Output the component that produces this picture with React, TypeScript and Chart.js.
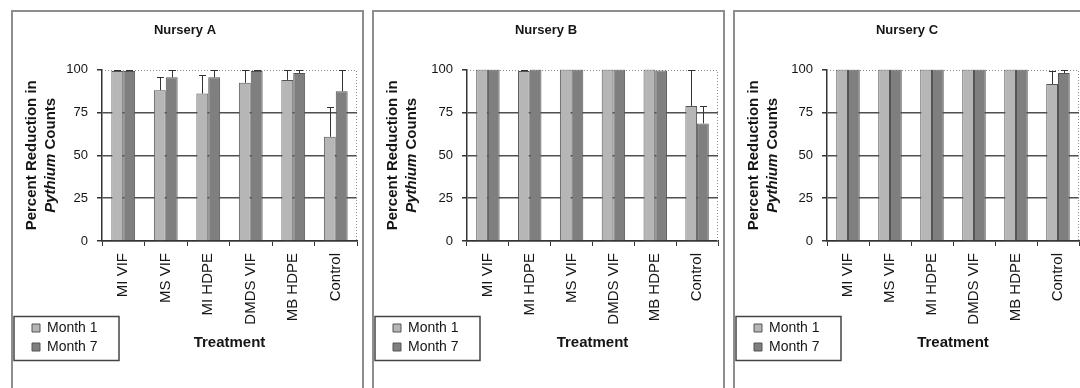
import React, { useEffect, useRef } from "react";
import { Chart, registerables } from "chart.js";

Chart.register(...registerables);

// ---------- data ----------
const seriesLabels = ["Month 1", "Month 7"];
const yTickValues = [0, 25, 50, 75, 100];

const nurseryATitle = "Nursery A";
const nurseryALabels = ["MI VIF", "MS VIF", "MI HDPE", "DMDS VIF", "MB HDPE", "Control"];
const nurseryAMonth1 = [99.2, 88, 86, 92.3, 94, 60.8];
const nurseryAMonth1Err = [0.6, 7.8, 11, 7.7, 6, 17.5];
const nurseryAMonth7 = [99.2, 95.5, 95.5, 99.2, 98, 87.4];
const nurseryAMonth7Err = [0.6, 4.5, 4.5, 0.8, 2, 12.6];

const nurseryBTitle = "Nursery B";
const nurseryBLabels = ["MI VIF", "MI HDPE", "MS VIF", "DMDS VIF", "MB HDPE", "Control"];
const nurseryBMonth1 = [100, 99.2, 100, 100, 100, 78.8];
const nurseryBMonth1Err = [0, 0.6, 0, 0, 0, 20.8];
const nurseryBMonth7 = [100, 100, 100, 100, 99.5, 68.6];
const nurseryBMonth7Err = [0, 0, 0, 0, 0, 10.2];

const nurseryCTitle = "Nursery C";
const nurseryCLabels = ["MI VIF", "MS VIF", "MI HDPE", "DMDS VIF", "MB HDPE", "Control"];
const nurseryCMonth1 = [100, 100, 100, 100, 100, 91.6];
const nurseryCMonth1Err = [0, 0, 0, 0, 0, 7.8];
const nurseryCMonth7 = [100, 100, 100, 100, 100, 98];
const nurseryCMonth7Err = [0, 0, 0, 0, 0, 2];

const xAxisTitle = "Treatment";
const yTitleLine1 = "Percent Reduction in";
const yTitleItalic = "Pythium";
const yTitleRest = " Counts";

// ---------- styles ----------
const FONT = "'Liberation Sans', Arial, Helvetica, sans-serif";
const TEXT = "#151515";
const AXIS = "#333333";
const GRID = "#4f4f4f";
const FILL_M1 = "#b6b6b6";
const FILL_M7 = "#7f7f7f";
const BAR_EDGE = "#555555";

Chart.defaults.font.family = FONT;

const PANEL_W = 353;
const CANVAS_W = PANEL_W - 4;
const CANVAS_H = 376;

const legendPlacer = {
  id: "legendPlacer",
  afterLayout(chart: any) {
    const lg = chart.legend;
    if (!lg) return;
    lg.left = 14;
    lg.top = 304;
    lg.right = 112;
    lg.bottom = 362;
    lg.width = 98;
    lg.height = 58;
  },
  afterDraw(chart: any) {
    const ctx = chart.ctx;
    ctx.save();
    ctx.strokeStyle = "#444";
    ctx.lineWidth = 1.5;
    ctx.strokeRect(1, 304.5, 105, 44);
    ctx.restore();
  },
};

const plotFrame = {
  id: "plotFrame",
  beforeDatasetsDraw(chart: any) {
    const { left, right, top, bottom } = chart.chartArea;
    const ctx = chart.ctx;
    ctx.save();
    ctx.strokeStyle = "#8a8a8a";
    ctx.lineWidth = 1;
    ctx.setLineDash([1, 2]);
    ctx.beginPath();
    ctx.moveTo(left, Math.round(top) + 0.5);
    ctx.lineTo(Math.round(right) - 0.5, Math.round(top) + 0.5);
    ctx.lineTo(Math.round(right) - 0.5, bottom);
    ctx.stroke();
    ctx.restore();
  },
};

const errorBars = {
  id: "errorBars",
  afterDatasetsDraw(chart: any) {
    const ctx = chart.ctx;
    const yScale = chart.scales.y;
    ctx.save();
    ctx.strokeStyle = AXIS;
    ctx.lineWidth = 1;
    chart.data.datasets.forEach((ds: any, i: number) => {
      const meta = chart.getDatasetMeta(i);
      meta.data.forEach((bar: any, j: number) => {
        const e = ds.errors ? ds.errors[j] : 0;
        if (!e) return;
        const v = ds.data[j];
        const x = Math.round(bar.x) + 0.5;
        const yt = Math.round(yScale.getPixelForValue(v + e)) + 0.5;
        ctx.beginPath();
        ctx.moveTo(x, bar.y);
        ctx.lineTo(x, yt);
        ctx.moveTo(x - 3.5, yt);
        ctx.lineTo(x + 3.5, yt);
        ctx.stroke();
      });
    });
    ctx.restore();
  },
};

const yTitle = {
  id: "yTitle",
  afterDraw(chart: any) {
    const ctx = chart.ctx;
    const { top, bottom } = chart.chartArea;
    const cy = (top + bottom) / 2;
    ctx.save();
    ctx.fillStyle = TEXT;
    ctx.textBaseline = "middle";
    ctx.translate(19, cy);
    ctx.rotate(-Math.PI / 2);
    ctx.font = `bold 15px ${FONT}`;
    ctx.textAlign = "center";
    ctx.fillText(yTitleLine1, 0, 0);
    ctx.restore();

    ctx.save();
    ctx.fillStyle = TEXT;
    ctx.textBaseline = "middle";
    ctx.translate(37.5, cy);
    ctx.rotate(-Math.PI / 2);
    const fItalic = `italic bold 15px ${FONT}`;
    const fBold = `bold 15px ${FONT}`;
    ctx.font = fItalic;
    const w1 = ctx.measureText(yTitleItalic).width;
    ctx.font = fBold;
    const w2 = ctx.measureText(yTitleRest).width;
    const start = -(w1 + w2) / 2;
    ctx.textAlign = "left";
    ctx.font = fItalic;
    ctx.fillText(yTitleItalic, start, 0);
    ctx.font = fBold;
    ctx.fillText(yTitleRest, start + w1, 0);
    ctx.restore();
  },
};

type PanelProps = {
  title: string;
  labels: string[];
  m1: number[];
  m1Err: number[];
  m7: number[];
  m7Err: number[];
  left: number;
  yAxisWidth: number;
};

function Panel(props: PanelProps) {
  const ref = useRef<HTMLCanvasElement | null>(null);
  useEffect(() => {
    if (!ref.current) return;
    const chart = new Chart(ref.current, {
      type: "bar",
      data: {
        labels: props.labels,
        datasets: [
          {
            label: seriesLabels[0],
            data: props.m1,
            errors: props.m1Err,
            backgroundColor: FILL_M1,
            borderColor: BAR_EDGE,
            borderWidth: 1,
            categoryPercentage: 0.56,
            barPercentage: 1.0,
          } as any,
          {
            label: seriesLabels[1],
            data: props.m7,
            errors: props.m7Err,
            backgroundColor: FILL_M7,
            borderColor: BAR_EDGE,
            borderWidth: 1,
            categoryPercentage: 0.56,
            barPercentage: 1.0,
          } as any,
        ],
      },
      options: {
        responsive: false,
        animation: false,
        devicePixelRatio: 1,
        layout: { padding: { left: 0, right: 5, top: 0, bottom: 36 } },
        plugins: {
          title: {
            display: true,
            text: props.title,
            color: TEXT,
            font: { family: FONT, size: 13, weight: "bold" },
            padding: { top: 11, bottom: 31 },
          },
          legend: {
            display: true,
            position: "chartArea",
            align: "start",
            labels: {
              boxWidth: 8,
              boxHeight: 8,
              padding: 5,
              color: TEXT,
              font: { family: FONT, size: 14 },
            },
          },
          tooltip: { enabled: false },
        },
        scales: {
          x: {
            grid: {
              display: true,
              drawOnChartArea: false,
              drawTicks: true,
              tickLength: 5,
              color: AXIS,
              offset: true,
            },
            border: { display: true, color: AXIS, width: 1.5 },
            ticks: {
              minRotation: 90,
              maxRotation: 90,
              autoSkip: false,
              padding: 7,
              color: TEXT,
              font: { family: FONT, size: 15 },
            },
            title: {
              display: true,
              text: xAxisTitle,
              color: TEXT,
              font: { family: FONT, size: 15, weight: "bold" },
              padding: 0,
            },
            afterFit: (s: any) => {
              s.height = 111;
            },
          },
          y: {
            min: yTickValues[0],
            max: yTickValues[yTickValues.length - 1],
            afterBuildTicks: (s: any) => {
              s.ticks = yTickValues.map((v) => ({ value: v }));
            },
            ticks: {
              stepSize: 25,
              padding: 9,
              color: TEXT,
              font: { family: FONT, size: 13 },
            },
            grid: {
              color: (c: any) =>
                c.tick && c.tick.value === 100 ? "rgba(0,0,0,0)" : GRID,
              tickColor: AXIS,
              tickLength: 5,
              lineWidth: 1.5,
            },
            border: { display: true, color: AXIS, width: 1.5 },
            afterFit: (s: any) => {
              s.width = props.yAxisWidth;
            },
          },
        },
      } as any,
      plugins: [legendPlacer, plotFrame, errorBars, yTitle],
    });
    return () => chart.destroy();
  }, []);

  return (
    <div
      style={{
        position: "absolute",
        left: props.left,
        top: 10,
        width: PANEL_W,
        height: 400,
        border: "2px solid #8e8e8e",
        boxSizing: "border-box",
        background: "#fff",
      }}
    >
      <canvas
        ref={ref}
        width={CANVAS_W}
        height={CANVAS_H}
        style={{ display: "block", width: CANVAS_W, height: CANVAS_H }}
      />
    </div>
  );
}

export default function App() {
  return (
    <div
      style={{
        position: "fixed",
        left: 0,
        top: 0,
        width: 1080,
        height: 388,
        overflow: "hidden",
        background: "#fff",
      }}
    >
      <Panel
        title={nurseryATitle}
        labels={nurseryALabels}
        m1={nurseryAMonth1}
        m1Err={nurseryAMonth1Err}
        m7={nurseryAMonth7}
        m7Err={nurseryAMonth7Err}
        left={11}
        yAxisWidth={89}
      />
      <Panel
        title={nurseryBTitle}
        labels={nurseryBLabels}
        m1={nurseryBMonth1}
        m1Err={nurseryBMonth1Err}
        m7={nurseryBMonth7}
        m7Err={nurseryBMonth7Err}
        left={372}
        yAxisWidth={93}
      />
      <Panel
        title={nurseryCTitle}
        labels={nurseryCLabels}
        m1={nurseryCMonth1}
        m1Err={nurseryCMonth1Err}
        m7={nurseryCMonth7}
        m7Err={nurseryCMonth7Err}
        left={733}
        yAxisWidth={92}
      />
    </div>
  );
}
